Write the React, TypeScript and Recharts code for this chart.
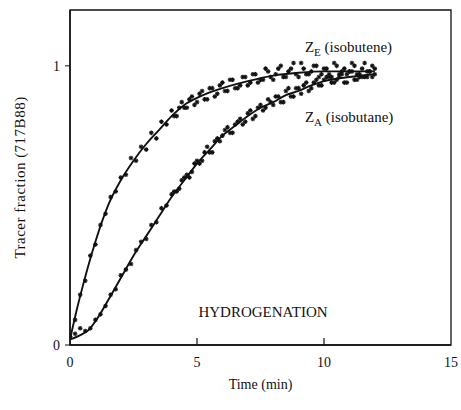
import { ComposedChart, Line, Scatter, XAxis, YAxis, ReferenceLine, ReferenceArea, ReferenceDot, Label } from 'recharts';

// sample times (min) for the measured tracer points
const sampleTimes = [
  0, 0.2, 0.4, 0.6, 0.8, 1, 1.2, 1.4, 1.6, 1.8, 2, 2.2, 2.4, 2.6, 2.8, 3, 3.2, 3.4, 3.6, 3.8,
  4, 4.2, 4.4, 4.6, 4.8, 5, 5.2, 5.4, 5.6, 5.8, 6, 6.2, 6.4, 6.6, 6.8, 7, 7.2, 7.4, 7.6, 7.8,
  8, 8.2, 8.4, 8.6, 8.8, 9, 9.2, 9.4, 9.6, 9.8, 10, 10.2, 10.4, 10.6, 10.8, 11, 11.2, 11.4, 11.6, 11.8, 12,
];
// denser sampling in the second half of the run
const extraTimes = [
  4.1, 4.3, 4.5, 4.7, 4.9, 5.1, 5.3, 5.5, 5.7, 5.9, 6.1, 6.3, 6.5, 6.7, 6.9, 7.1, 7.3, 7.5, 7.7, 7.9,
  8.1, 8.3, 8.5, 8.7, 8.9, 9.1, 9.3, 9.5, 9.7, 9.9, 10.1, 10.3, 10.5, 10.7, 10.9, 11.1, 11.3, 11.5, 11.7, 11.9,
];

// Z_E (isobutene) measured points
const zePoints = [
  0.03, 0.09, 0.18, 0.23, 0.32, 0.36, 0.43, 0.47, 0.53, 0.55, 0.6, 0.61, 0.67, 0.66, 0.71, 0.7, 0.76, 0.74, 0.8, 0.79,
  0.84, 0.82, 0.87, 0.85, 0.89, 0.87, 0.91, 0.88, 0.92, 0.9, 0.94, 0.91, 0.95, 0.92, 0.96, 0.93, 0.97, 0.94, 0.95, 0.98,
  0.95, 0.99, 0.96, 0.98, 1.01, 0.96, 0.99, 0.97, 1.0, 0.96, 0.99, 0.97, 1.01, 0.96, 0.99, 0.98, 1.0, 0.96, 1.01, 0.98, 0.99,
];
const zeExtra = [
  0.82, 0.85, 0.85, 0.88, 0.86, 0.9, 0.88, 0.92, 0.89, 0.93, 0.91, 0.95, 0.92, 0.93, 0.96, 0.94, 0.97, 0.95, 0.99, 0.96,
  0.97, 1.0, 0.96, 0.99, 0.97, 1.01, 0.97, 0.98, 1.0, 0.97, 0.99, 0.96, 1.0, 0.98, 0.97, 1.01, 0.97, 0.99, 0.96, 1.0,
];

// Z_A (isobutane) measured points
const zaPoints = [
  0.03, 0.04, 0.06, 0.05, 0.06, 0.09, 0.11, 0.14, 0.18, 0.2, 0.25, 0.27, 0.29, 0.34, 0.37, 0.38, 0.43, 0.44, 0.49, 0.5,
  0.54, 0.55, 0.59, 0.61, 0.62, 0.66, 0.66, 0.71, 0.69, 0.74, 0.75, 0.78, 0.76, 0.8, 0.79, 0.83, 0.81, 0.85, 0.84, 0.88,
  0.86, 0.89, 0.87, 0.92, 0.89, 0.92, 0.93, 0.91, 0.94, 0.93, 0.95, 0.96, 0.94, 0.97, 0.94, 0.98, 0.95, 0.97, 0.96, 0.98, 0.97,
];
const zaExtra = [
  0.55, 0.56, 0.6, 0.6, 0.65, 0.65, 0.69, 0.69, 0.73, 0.73, 0.77, 0.76, 0.79, 0.81, 0.8, 0.84, 0.82, 0.86, 0.85, 0.87,
  0.89, 0.87, 0.91, 0.89, 0.92, 0.9, 0.94, 0.92, 0.95, 0.93, 0.96, 0.94, 0.95, 0.97, 0.94, 0.98, 0.95, 0.96, 0.98, 0.96,
];

// fitted curves
const zeFitTimes = [0, 0.25, 0.5, 1, 1.5, 2, 2.5, 3, 3.5, 4, 4.5, 5, 5.5, 6, 7, 8, 9, 10, 11, 12];
const zeFitValues = [0.02, 0.12, 0.21, 0.37, 0.5, 0.59, 0.66, 0.72, 0.77, 0.82, 0.86, 0.885, 0.905, 0.92, 0.945, 0.965, 0.975, 0.98, 0.98, 0.98];
const zaFitTimes = [0, 0.5, 0.75, 1, 1.5, 2, 2.5, 3, 3.5, 4, 4.5, 5, 5.5, 6, 6.5, 7, 7.5, 8, 8.5, 9, 9.5, 10, 11, 12];
const zaFitValues = [0.02, 0.04, 0.055, 0.085, 0.16, 0.24, 0.32, 0.39, 0.46, 0.53, 0.59, 0.65, 0.7, 0.75, 0.785, 0.82, 0.85, 0.87, 0.895, 0.91, 0.93, 0.945, 0.96, 0.97];

const xTicks = [0, 5, 10, 15];
const yTicks = [0, 1];
const innerXTicks = [5, 10];

const zeScatter = [
  ...sampleTimes.map((t, i) => ({ t, v: zePoints[i] })),
  ...extraTimes.map((t, i) => ({ t, v: zeExtra[i] })),
];
const zaScatter = [
  ...sampleTimes.map((t, i) => ({ t, v: zaPoints[i] })),
  ...extraTimes.map((t, i) => ({ t, v: zaExtra[i] })),
];
const zeFit = zeFitTimes.map((t, i) => ({ t, v: zeFitValues[i] }));
const zaFit = zaFitTimes.map((t, i) => ({ t, v: zaFitValues[i] }));

const FONT = '"Liberation Serif", "DejaVu Serif", serif';
const INK = '#111';

// little asterisk marker like the scanned plot
const Star = (props: any) => {
  const { cx, cy } = props;
  if (cx == null || cy == null) return null;
  return (
    <g stroke={INK} strokeWidth={1.2}>
      <line x1={cx - 2.3} y1={cy} x2={cx + 2.3} y2={cy} />
      <line x1={cx} y1={cy - 2.3} x2={cx} y2={cy + 2.3} />
      <line x1={cx - 1.6} y1={cy - 1.6} x2={cx + 1.6} y2={cy + 1.6} />
      <line x1={cx - 1.6} y1={cy + 1.6} x2={cx + 1.6} y2={cy - 1.6} />
    </g>
  );
};

const textLabel = (main: string, sub: string | null, rest: string, anchor: 'start' | 'middle') => (props: any) => {
  const vb = props.viewBox || {};
  const x = vb.cx ?? vb.x;
  const y = vb.cy ?? vb.y;
  return (
    <text x={x} y={y} dy="0.35em" textAnchor={anchor} fontFamily={FONT} fontSize={15} fill={INK}>
      {main}
      {sub && (
        <tspan fontSize={11} dy={4}>
          {sub}
        </tspan>
      )}
      <tspan dy={sub ? -4 : 0}>{rest}</tspan>
    </text>
  );
};

// x tick label drawn as plain svg text
const XTick = (props: any) => {
  const { x, y, payload } = props;
  return (
    <text x={x} y={y} dy="0.71em" textAnchor="middle" fontFamily={FONT} fontSize={14} fill={INK}>
      {payload.value}
    </text>
  );
};

export default function App() {
  return (
    <>
      <style>{`html, body, #root { overflow: visible !important; } .recharts-wrapper, .recharts-surface { overflow: visible !important; max-width: none !important; }`}</style>
      <div style={{ width: 453, height: 390, overflow: 'visible' }}>
        <ComposedChart width={453} height={390} margin={{ top: 2, right: 10, left: 0, bottom: 13 }}>
          <XAxis
            type="number"
            dataKey="t"
            domain={[0, 15]}
            ticks={xTicks}
            interval={0}
            allowDataOverflow
            axisLine={{ stroke: INK, strokeWidth: 1.5 }}
            tickLine={false}
            tickSize={0}
            tickMargin={12}
            height={40}
            tick={<XTick />}
          >
            <Label
              content={(p: any) => {
                const vb = p.viewBox || {};
                return (
                  <text x={vb.x + vb.width / 2} y={vb.y + 44} textAnchor="middle" fontFamily={FONT} fontSize={14} fill={INK}>
                    Time (min)
                  </text>
                );
              }}
            />
          </XAxis>
          <YAxis
            type="number"
            dataKey="v"
            domain={[0, 1.2]}
            ticks={yTicks}
            interval={0}
            allowDataOverflow
            width={62}
            axisLine={{ stroke: INK, strokeWidth: 1.5 }}
            tickLine={{ stroke: INK }}
            tickSize={5}
            tickMargin={5}
            tick={{ fill: INK, fontSize: 14, fontFamily: FONT }}
          >
            <Label
              content={(p: any) => {
                const vb = p.viewBox || {};
                const x = vb.x + 12;
                const y = vb.y + vb.height / 2;
                return (
                  <text
                    x={x}
                    y={y}
                    dy="0.35em"
                    textAnchor="middle"
                    transform={`rotate(-90 ${x} ${y})`}
                    fontFamily={FONT}
                    fontSize={15}
                    letterSpacing={0.5}
                    fill={INK}
                  >
                    Tracer fraction (717B88)
                  </text>
                );
              }}
            />
          </YAxis>

          <ReferenceArea x1={0} x2={15} y1={0} y2={1.2} fill="none" stroke={INK} strokeWidth={1.3} ifOverflow="visible" />
          {innerXTicks.map((t) => (
            <ReferenceLine
              key={t}
              segment={[
                { x: t, y: 0 },
                { x: t, y: 0.025 },
              ]}
              stroke={INK}
              strokeWidth={1.2}
            />
          ))}

          <Scatter data={zeScatter} dataKey="v" shape={Star} isAnimationActive={false} />
          <Scatter data={zaScatter} dataKey="v" shape={Star} isAnimationActive={false} />
          <Line data={zeFit} dataKey="v" type="monotone" stroke={INK} strokeWidth={1.9} dot={false} isAnimationActive={false} />
          <Line data={zaFit} dataKey="v" type="monotone" stroke={INK} strokeWidth={1.9} dot={false} isAnimationActive={false} />

          <ReferenceDot x={9.25} y={1.067} r={0} fill="none" stroke="none" label={textLabel('Z', 'E', ' (isobutene)', 'start')} />
          <ReferenceDot x={9.25} y={0.817} r={0} fill="none" stroke="none" label={textLabel('Z', 'A', ' (isobutane)', 'start')} />
          <ReferenceDot x={7.6} y={0.118} r={0} fill="none" stroke="none" label={textLabel('HYDROGENATION', null, '', 'middle')} />
        </ComposedChart>
      </div>
    </>
  );
}
